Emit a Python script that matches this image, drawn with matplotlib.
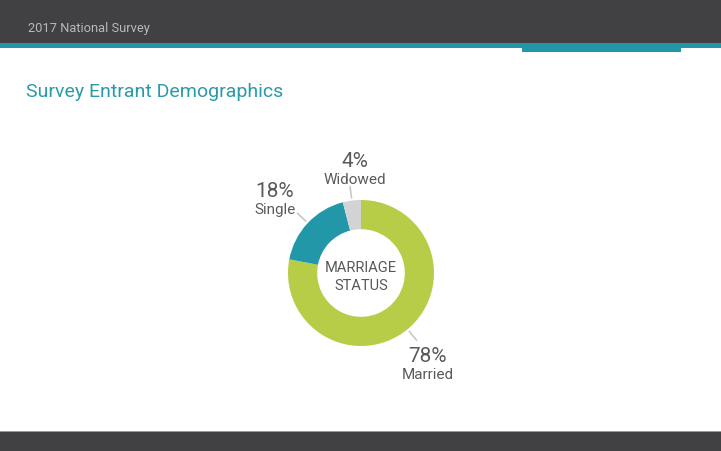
import numpy as np
import matplotlib.pyplot as plt
from matplotlib.patches import Rectangle

plt.rcParams["font.family"] = ["Roboto", "DejaVu Sans"]

# data
labels = ["Married", "Single", "Widowed"]
shares = [78, 18, 4]
colors = ["#b8cd47", "#2197a8", "#d3d3d5"]

# label placement (radius in ring units, angle nudge in degrees)
label_radius = [1.62, 1.50, 1.345]
label_shift = [-5.1, 5.1, -3.4]

W, H = 721, 451
fig = plt.figure(figsize=(W / 100, H / 100), dpi=100)

# page decoration in pixel coords
bg = fig.add_axes([0, 0, 1, 1])
bg.set_xlim(0, W)
bg.set_ylim(H, 0)
bg.axis("off")
bg.add_patch(Rectangle((0, 0), W, 43, color="#414143", lw=0))
bg.add_patch(Rectangle((0, 43), W, 5, color="#2197a8", lw=0))
bg.add_patch(Rectangle((522, 43), 159, 9, color="#2197a8", lw=0))
bg.add_patch(Rectangle((0, 431), W, 2, color="#9a9a9a", lw=0))
bg.add_patch(Rectangle((0, 432), W, 19, color="#414143", lw=0))
bg.text(28, 32, "2017 National Survey", color="#b9b9bb", fontsize=9.3, va="baseline")
bg.text(26, 97, "Survey Entrant Demographics", color="#2a9aab", fontsize=14, va="baseline")

# donut
cx, cy, r = 361, 273, 73
ax = fig.add_axes([(cx - r) / W, 1 - (cy + r) / H, 2 * r / W, 2 * r / H])
ax.pie(shares, colors=colors, startangle=90, counterclock=False,
       radius=1, wedgeprops=dict(width=0.40, edgecolor="none"))
ax.set_xlim(-1, 1)
ax.set_ylim(-1, 1)
ax.set_aspect("equal")
ax.axis("off")
ax.text(0, -4 / r, "MARRIAGE\nSTATUS", ha="center", va="center",
        fontsize=10.5, color="#58585a", linespacing=1.35)

px = 1 / r  # one pixel in ring units
total = sum(shares)
start = 90.0
for lab, val, lr, sh in zip(labels, shares, label_radius, label_shift):
    sweep = val / total * 360
    mid = np.radians(start - sweep / 2)
    start -= sweep
    c, s = np.cos(mid), np.sin(mid)
    ax.plot([1.04 * c, 1.19 * c], [1.04 * s, 1.19 * s], color="#c8c8ca",
            lw=1.2, clip_on=False)
    a = mid + np.radians(sh)
    x, y = lr * np.cos(a), lr * np.sin(a)
    ax.text(x, y + 8.5 * px, f"{val}%", ha="center", va="baseline",
            fontsize=15, color="#5a5a5c")
    ax.text(x, y - 8.5 * px, lab, ha="center", va="baseline",
            fontsize=11, color="#5a5a5c")

fig.savefig("out.png", dpi=100)
